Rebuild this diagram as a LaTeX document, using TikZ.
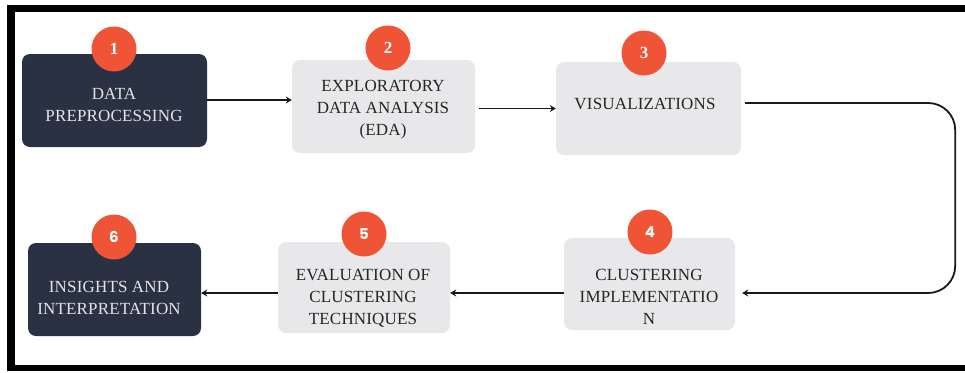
\documentclass[tikz,border=0pt]{standalone}
\usepackage{fontspec}
\setmainfont{Liberation Serif}
\newfontfamily\numsans{Poppins}
\usetikzlibrary{arrows.meta}
\definecolor{darkbox}{HTML}{2A3142}
\definecolor{lightbox}{HTML}{E8E8EA}
\definecolor{badge}{HTML}{EE5435}
\definecolor{darktext}{HTML}{262626}
\definecolor{lighttext}{HTML}{E4E4E6}
\tikzset{
  box/.style={rounded corners=8pt, inner sep=0pt},
  darkstep/.style={box, fill=darkbox},
  lightstep/.style={box, fill=lightbox},
  lbl/.style={align=center, font=\fontsize{17}{22}\selectfont\addfontfeatures{LetterSpace=1}, inner sep=0pt},
  lbldark/.style={lbl, text=lighttext},
  lbllight/.style={lbl, text=darktext},
  badgestyle/.style={circle, fill=badge, minimum size=45pt, inner sep=0pt, text=white},
  serifnum/.style={badgestyle, font=\fontsize{17}{17}\selectfont\bfseries},
  sansnum/.style={badgestyle, font=\numsans\fontsize{15}{15}\selectfont\bfseries},
  arr/.style={line width=1.8pt, draw=black!90, -{Stealth[length=6pt,width=7pt]}},
  frameline/.style={fill=black}
}
\begin{document}
\begin{tikzpicture}[x=1pt,y=-1pt]
\useasboundingbox (0,0) rectangle (965,372);
% frame
\fill[frameline] (7,5) rectangle (965,12);
\fill[frameline] (7,5) rectangle (15,371);
\fill[frameline] (7,365) rectangle (965,371);
% boxes
\node[darkstep, minimum width=185pt, minimum height=93pt] (b1) at (114.5,100.5) {};
\node[lightstep, minimum width=183pt, minimum height=93pt] (b2) at (383.5,106.5) {};
\node[lightstep, minimum width=185pt, minimum height=93pt] (b3) at (648.5,108.5) {};
\node[lightstep, minimum width=171pt, minimum height=92pt] (b4) at (649.5,284) {};
\node[lightstep, minimum width=172pt, minimum height=91pt] (b5) at (364,287.5) {};
\node[darkstep, minimum width=173pt, minimum height=93pt] (b6) at (114.5,289.5) {};
% labels
\node[lbldark] (t1) at (114,105) {DATA\\PREPROCESSING};
\node[lbllight] (t2) at (383,109.5) {EXPLORATORY\\DATA ANALYSIS\\(EDA)};
\node[lbllight] (t3) at (645,104) {VISUALIZATIONS};
\node[lbllight] (t4) at (649,297) {CLUSTERING\\IMPLEMENTATIO\\N};
\node[lbllight] (t5) at (363,298.5) {EVALUATION OF\\CLUSTERING\\TECHNIQUES};
\node[lbldark] (t6) at (109,297.5) {INSIGHTS AND\\INTERPRETATION};
% badges
\node[serifnum] (c1) at (114,49) {1};
\node[serifnum] (c2) at (388,48) {2};
\node[serifnum] (c3) at (644,53) {3};
\node[sansnum] (c4) at (650,232) {4};
\node[sansnum] (c5) at (364,234) {5};
\node[sansnum] (c6) at (114,237) {6};
% connectors
\draw[arr] ([yshift=0.5pt]b1.east) -- ([yshift=0.5pt]b1.east -| b2.west);
\draw[arr] ([xshift=4pt]b3.west -| b2.east) -- (b3.west);
\draw[arr, rounded corners=27pt] ([xshift=4pt,yshift=5.5pt]b3.east) -- ++(210,0) |- ([xshift=7pt,yshift=-9pt]b4.east);
\draw[arr] ([yshift=-9pt]b4.west) -- ([yshift=-9pt]b4.west -| b5.east);
\draw[arr] ([yshift=-5.5pt]b5.west) -- ([yshift=-5.5pt]b5.west -| b6.east);
\end{tikzpicture}
\end{document}
